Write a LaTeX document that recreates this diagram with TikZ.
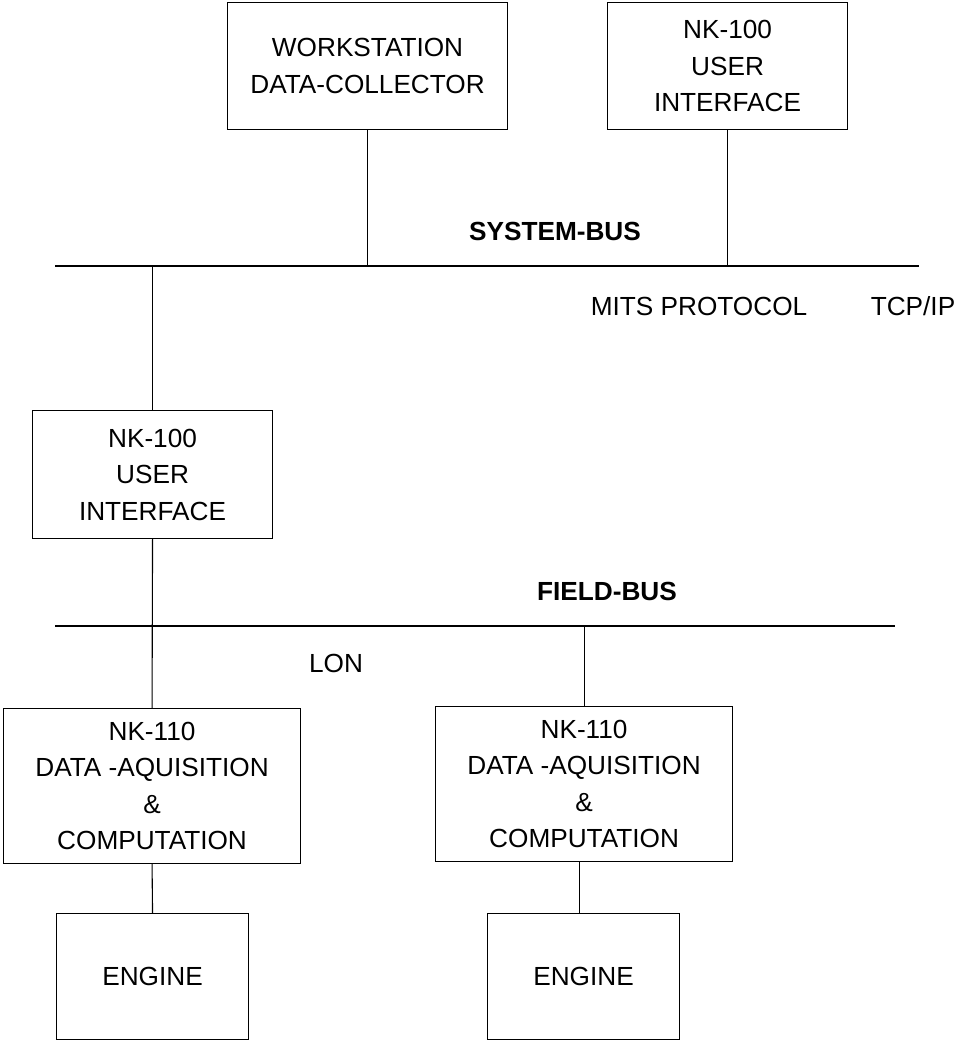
\documentclass[tikz,border=0pt]{standalone}
\usepackage{fontspec}
\setmainfont{Liberation Sans}
\begin{document}
\begin{tikzpicture}[x=1pt,y=-1pt,
  every node/.style={font=\fontsize{26.2}{36.5}\selectfont},
  blk/.style={draw,line width=1.1pt,rectangle,inner sep=0pt,align=center,anchor=north west},
  lbl/.style={inner sep=0pt},
  buslbl/.style={inner sep=0pt,font=\fontsize{26.2}{36.5}\selectfont\bfseries},
  wire/.style={line width=1.1pt}]
\useasboundingbox (0,0) rectangle (955,1042);
% boxes
\node[blk,minimum width=280pt,minimum height=127pt] (ws) at (227,2) {WORKSTATION\\DATA-COLLECTOR};
\node[blk,minimum width=240pt,minimum height=127pt] (ui1) at (607,2) {NK-100\\USER\\INTERFACE};
\node[blk,minimum width=240pt,minimum height=128pt] (ui2) at (32,410) {NK-100\\USER\\INTERFACE};
\node[blk,minimum width=297pt,minimum height=155pt] (da1) at (3,708) {NK-110\\DATA -AQUISITION\\\&\\COMPUTATION};
\node[blk,minimum width=297pt,minimum height=155pt] (da2) at (435,706) {NK-110\\DATA -AQUISITION\\\&\\COMPUTATION};
\node[blk,minimum width=192pt,minimum height=126pt] (en1) at (56,913) {ENGINE};
\node[blk,minimum width=192pt,minimum height=126pt] (en2) at (487,913) {ENGINE};
% buses
\coordinate (sbL) at (55,266);
\coordinate (sbR) at (919,266);
\coordinate (fbL) at (55,626);
\coordinate (fbR) at (895,626);
\draw[wire] (sbL) -- (sbR);
\draw[wire] (fbL) -- (fbR);
% labels
\node[buslbl] (sysbus) at (555,231) {SYSTEM-BUS};
\node[buslbl] (fieldbus) at (607,591) {FIELD-BUS};
\node[lbl] (mits) at (699,306) {MITS PROTOCOL};
\node[lbl] (tcp) at (913,306) {TCP/IP};
\node[lbl] (lon) at (336,663) {LON};
% connectors
\draw[wire] (ws.south) -- (ws.south |- sbL);
\draw[wire] (ui1.south) -- (ui1.south |- sbL);
\draw[wire] (ui2.north |- sbL) -- (ui2.north);
\draw[wire] (ui2.south) -- (da1.north);
\draw[wire] ([xshift=0.5pt]da2.north |- fbL) -- ([xshift=0.5pt]da2.north);
\draw[wire] (da1.south) -- (en1.north);
\draw[wire] ([xshift=-4.5pt]da2.south) -- ([xshift=-4.5pt]da2.south |- en2.north);
\end{tikzpicture}
\end{document}
